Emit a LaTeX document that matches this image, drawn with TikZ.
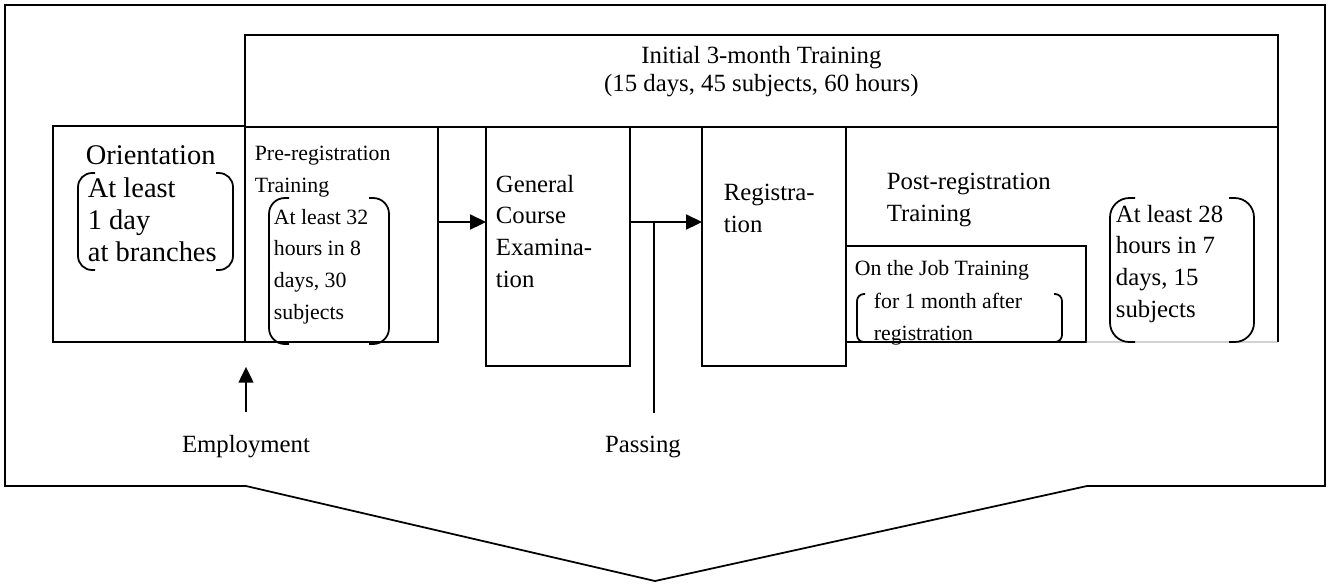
\documentclass[tikz,border=0pt]{standalone}
\usepackage{fontspec}
\setmainfont{Liberation Serif}
\usetikzlibrary{positioning,calc,arrows.meta}

% left and right curved bracket round a note
\newcommand{\roundbrackets}[6]{%
  \draw[rounded corners=#6] (#1+#5,#2) -- (#1,#2) -- (#1,#4) -- (#1+#5,#4);
  \draw[rounded corners=#6] (#3-#5,#2) -- (#3,#2) -- (#3,#4) -- (#3-#5,#4);}

\begin{document}
\begin{tikzpicture}[x=0.02cm, y=-0.02cm, line width=1pt,
    box/.style={draw, rectangle, anchor=north west, inner sep=0pt, outer sep=0pt},
    txt/.style={anchor=north west, align=left, inner sep=0pt},
    big/.style={font=\fontsize{16.2}{18.1}\selectfont},
    mid/.style={font=\fontsize{14.1}{18.1}\selectfont},
    small/.style={font=\fontsize{12.4}{18.1}\selectfont},
    flow/.style={-{Triangle[length=9pt,width=8.5pt]}}]
  \useasboundingbox (0,0) rectangle (1332,583);

  % outer frame
  \draw[line join=miter] (5,5) -- (1325,5) -- (1325,486) -- (1087,486) -- (655,581)
    -- (246,486) -- (5,486) -- cycle;

  % boxes
  \node[box, minimum width=20.66cm, minimum height=1.84cm] (initial) at (245,35) {};
  \node[box, minimum width=3.84cm, minimum height=4.32cm] (orient) at (53,126) {};
  \node[box, minimum width=3.86cm, minimum height=4.3cm] (prereg) at (245,127) {};
  \node[box, minimum width=2.88cm, minimum height=4.78cm] (exam) at (486,127) {};
  \node[box, minimum width=2.88cm, minimum height=4.78cm] (regist) at (702,127) {};
  \node[box, minimum width=4.8cm, minimum height=1.92cm] (ojt) at (846,246) {};
  \node[anchor=north west, inner sep=0pt, outer sep=0pt,
    minimum width=8.64cm, minimum height=4.3cm] (postreg) at (846,127) {};
  \draw (postreg.north east) -- (postreg.south east);
  \draw[gray, line width=0.5pt] (ojt.south east) -- (postreg.south east);

  % texts
  \node[txt, align=center, anchor=north, font=\fontsize{14.1}{16.4}\selectfont] (inittext)
    at ($(initial.north)+(0,10)$) {Initial 3-month Training\\(15 days, 45 subjects, 60 hours)};
  \node[txt, big] (orienttitle) at ($(orient.north west)+(32,19)$) {Orientation};
  \node[txt, big] (orientnote) at ($(orient.north west)+(34,51)$) {At least\\1 day\\at branches};
  \node[txt, small] (pretitle) at ($(prereg.north west)+(9,18)$) {Pre-registration\\Training};
  \node[txt, small] (prenote) at ($(prereg.north west)+(28,81)$) {At least 32\\hours in 8\\days, 30\\subjects};
  \node[txt, mid] (examtext) at ($(exam.north west)+(9,47)$) {General\\Course\\Examina-\\tion};
  \node[txt, mid] (registtext) at ($(regist.north west)+(21,56)$) {Registra-\\tion};
  \node[txt, mid] (posttitle) at ($(postreg.north west)+(40,45)$) {Post-registration\\Training};
  \node[txt, small] (ojttitle) at ($(ojt.north west)+(8,13)$) {On the Job Training};
  \node[txt, small] (ojtnote) at ($(ojt.north west)+(27,46)$) {for 1 month after\\registration};
  \node[txt, mid] (postnote) at ($(postreg.north west)+(269,77)$) {At least 28\\hours in 7\\days, 15\\subjects};

  % brackets
  \roundbrackets{78}{173}{233}{270}{17}{8pt}
  \roundbrackets{269}{198}{389}{344}{20}{9pt}
  \roundbrackets{857}{294}{1062}{342}{8}{4pt}
  \roundbrackets{1110}{198}{1254}{342}{25}{11pt}

  % events
  \node[inner sep=0pt, mid, anchor=base] (employ) at (246,452) {Employment};
  \node[inner sep=0pt, mid, anchor=base] (passing) at (643,452) {Passing};

  % connectors
  \draw[flow] ($(prereg.north east)+(0,95)$) -- ($(exam.north west)+(0,95)$);
  \draw[flow] ($(exam.north east)+(0,95)$) -- ($(regist.north west)+(0,95)$);
  \coordinate (junction) at ($(exam.north east)+(24,95)$);
  \draw[line width=0.6pt] (junction) -- ([yshift=12.5pt]junction |- passing.north);
  \draw[flow] ([yshift=12.5pt]employ.north) -- ([yshift=-14.2pt]employ.north |- orient.south);
\end{tikzpicture}
\end{document}
